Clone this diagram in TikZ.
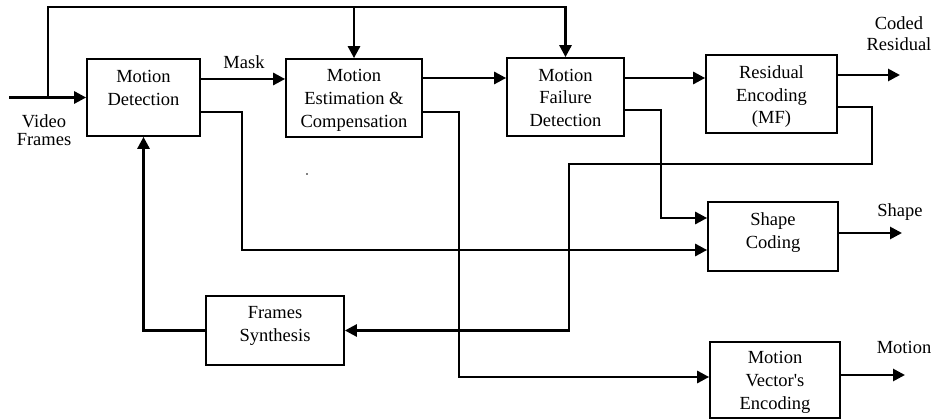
\documentclass[tikz,border=0pt]{standalone}
\usepackage{fontspec}
\setmainfont{Liberation Serif}[Ligatures=TeXOff]
\usetikzlibrary{arrows.meta}
\begin{document}
\begin{tikzpicture}[x=1pt,y=-1pt,
  box/.style={draw, line width=1.7pt, inner sep=0pt},
  boxtext/.style={anchor=north, inner sep=0pt, align=center,
    font=\fontsize{18.5}{22.7}\selectfont},
  lbl/.style={inner sep=0pt, font=\fontsize{18.5}{21}\selectfont, align=center},
  conn/.style={line width=2.7pt, -{Triangle[length=12pt,width=12pt]}}]
\useasboundingbox (0,0) rectangle (934,419);

% processing blocks
\node[box, minimum width=113pt, minimum height=77pt] (md)  at (143.5,97.5) {};
\node[box, minimum width=136pt, minimum height=78pt] (me)  at (354,98)    {};
\node[box, minimum width=117pt, minimum height=78pt] (mf)  at (565.5,97)  {};
\node[box, minimum width=131pt, minimum height=78pt] (re)  at (771.5,94)  {};
\node[box, minimum width=130pt, minimum height=69pt] (sc)  at (773,236.5) {};
\node[box, minimum width=138pt, minimum height=69pt] (fs)  at (275,330.5) {};
\node[box, minimum width=130pt, minimum height=76pt] (mve) at (775,380)   {};

% block captions
\node[boxtext] (mdt)  at ([yshift=-11.8pt]md.north)  {Motion\\Detection};
\node[boxtext] (met)  at ([yshift=-11.2pt]me.north)  {Motion\\Estimation \&\\Compensation};
\node[boxtext] (mft)  at ([yshift=-11.6pt]mf.north)  {Motion\\Failure\\Detection};
\node[boxtext] (ret)  at ([yshift=-11.2pt]re.north)  {Residual\\Encoding\\(MF)};
\node[boxtext] (sct)  at ([yshift=-11.6pt]sc.north)  {Shape\\Coding};
\node[boxtext] (fst)  at ([yshift=-11.2pt]fs.north)  {Frames\\Synthesis};
\node[boxtext] (mvet) at ([yshift=-10.2pt]mve.north) {Motion\\Vector's\\Encoding};

% signal labels
\node[lbl, anchor=base] (masklbl) at (244,68.3) {Mask};
\node[lbl, anchor=north] (codedlbl) at (899,16.2) {Coded\\Residual};
\node[lbl, anchor=base] (shapelbl) at (900,216.7) {Shape};
\node[lbl, anchor=base] (motionlbl) at (904,353.3) {Motion};
\node[lbl, anchor=north, font=\fontsize{18.5}{18}\selectfont] (vflbl) at (44,114.8) {Video\\Frames};

% end points and bends
\coordinate (vin)  at (9,97.5);
\coordinate (j1)   at (48,97.5);
\coordinate (topy) at (0,7);
\coordinate (cres) at (900,75);
\coordinate (cshp) at (902,233);
\coordinate (cmot) at (905,375);

% input and the frame bus along the top
\draw[conn] (vin) -- (md.west);
\draw[conn] (j1) |- (topy -| mf.north) -- (mf.north);
\draw[conn] (topy -| me.north) -- (me.north);

% main chain
\draw[conn] (md.east |- 0,79) -- (me.west |- 0,79);
\draw[conn] (me.east |- 0,78) -- (mf.west |- 0,78);
\draw[conn] (mf.east |- 0,78) -- (re.west |- 0,78);
\draw[conn] (re.east |- cres) -- (cres);

% side paths
\draw[conn] (re.east |- 0,107) -| (872,164) -| (569,330.5) -- (fs.east);
\draw[conn] (mf.east |- 0,110) -| (661,218) -- (sc.west |- 0,218);
\draw[conn] (md.east |- 0,112) -| (242,250) -- (sc.west |- 0,250);
\draw[conn] (me.east |- 0,112) -| (459,377) -- (mve.west |- 0,377);
\draw[conn] (fs.west) -| (md.south);

% outputs
\draw[conn] (sc.east |- cshp) -- (cshp);
\draw[conn] (mve.east |- cmot) -- (cmot);

% small speck
\fill (307,174) circle (0.8);
\end{tikzpicture}
\end{document}
